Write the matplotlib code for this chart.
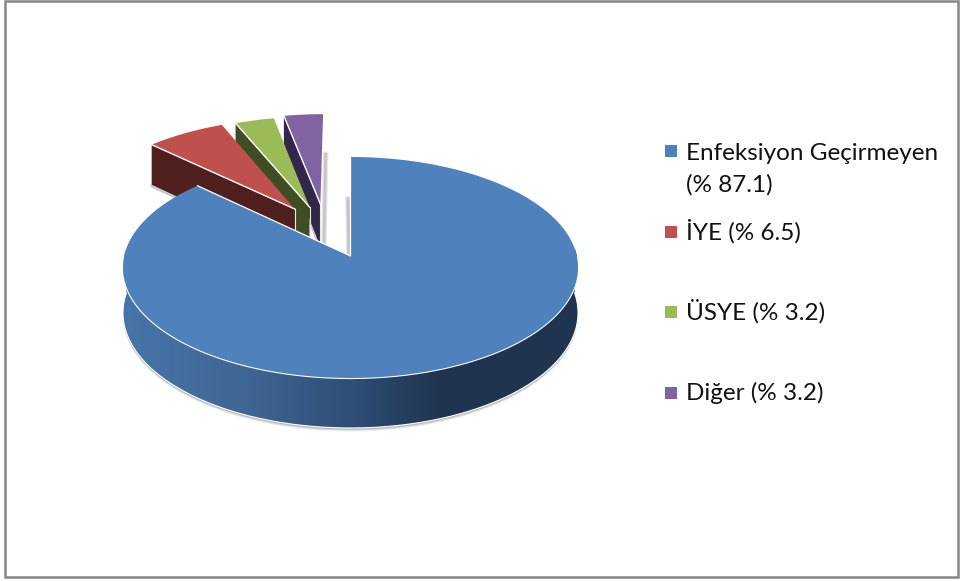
import numpy as np
import matplotlib
matplotlib.use("Agg")
import matplotlib.pyplot as plt
from matplotlib.patches import Polygon, Rectangle
from matplotlib.colors import LinearSegmentedColormap

# ---- data ----
labels = [["Enfeksiyon Geçirmeyen", "(% 87.1)"], ["İYE (% 6.5)"], ["ÜSYE (% 3.2)"], ["Diğer (% 3.2)"]]
values = [87.1, 6.5, 3.2, 3.2]

# ---- style / layout ----
top_colors = ["#4F81BD", "#C0504D", "#9BBB59", "#8064A2"]
wall_colors = [None, "#4F1F1E", "#3F4D24", "#32274A"]
explode = [(0.0, 0.0), (-0.258, 0.45), (-0.19, 0.47), (-0.14, 0.50)]
legend_y = [151, 232, 312, 393]
legend_base = [160, 240, 320, 400]
LINE_STEP = 32
CX, AY, A, B, K, DEPTH = 350.5, 256.0, 226.3, 109.3, 0.104, 44.8


def project(X, Y):
    d = 1 + K * Y
    return CX + A * X / d, AY - B * Y / d


def depth_at(Y):
    return DEPTH / (1 + K * Y)


def disc(theta_deg, off=(0, 0)):
    t = np.radians(theta_deg)
    return off[0] + np.sin(t), off[1] + np.cos(t)


fig = plt.figure(figsize=(9.6, 5.81), dpi=100, facecolor="white")
ax = fig.add_axes([0, 0, 1, 1])
ax.set_axis_off()

ax.add_patch(Rectangle((4.5, 1), 953.5, 576, fill=False, ec="#868686", lw=1.8, zorder=1))

# cumulative angles (clockwise from the top)
total = sum(values)
edges = np.concatenate([[0], np.cumsum(values)]) / total * 360

# --- exploded small slices (drawn back to front: purple, green, red) ---
z = 2
for i in [3, 2, 1]:
    off = explode[i]
    a0, a1 = edges[i], edges[i + 1]
    ax_, ay_ = project(*off)
    ox, oy = disc(a0, off)
    px, py = project(ox, oy)
    d_out, d_in = depth_at(oy), depth_at(off[1])
    ax.plot([px, ax_], [py + d_out + 1.5, ay_ + d_in + 1.5], color="#999999", lw=2, alpha=.5, zorder=z)
    if i == 3:
        ex, ey = project(*disc(a1, off))
        for w, al in [(4, .25), (2.2, .5)]:
            ax.plot([ex + 2.5, ax_ + 3.5], [ey + 40, ay_ + d_in], color="#A8A8A8", lw=w, alpha=al, zorder=z)
    ax.add_patch(Polygon([(px, py), (ax_, ay_), (ax_, ay_ + d_in), (px, py + d_out)],
                         closed=True, fc=wall_colors[i], ec="none", zorder=z + 0.1))
    ax.plot([ax_, ax_], [ay_, ay_ + d_in], color="#E8E8E8", lw=0.8, zorder=z + 0.2)
    th = np.linspace(a0, a1, 40)
    dx, dy = disc(th, off)
    sx, sy = project(dx, dy)
    ax.add_patch(Polygon(np.column_stack([np.r_[ax_, sx], np.r_[ay_, sy]]), closed=True,
                         fc=top_colors[i], ec="none", zorder=z + 0.3))
    ax.plot([px, ax_], [py, ay_], color="white", lw=1.0, zorder=z + 0.4)
    z += 1

# --- grey shadow next to main start edge ---
sx0, sy0 = project(*disc(0))
for w, al in [(4, .25), (2.2, .5)]:
    ax.plot([sx0 - 2.5, CX - 1.5], [sy0 + 42, AY - 1], color="#A0A0A0", lw=w, alpha=al, zorder=z)

# --- main slice wall ---
a1 = edges[1]
th = np.linspace(86, 274, 300)
wx, wy = disc(th)
tx, ty = project(wx, wy)
by = ty + depth_at(wy)
for o, al in [(3.5, .12), (2.5, .2), (1.5, .35)]:
    ax.fill(np.r_[tx, tx[::-1]], np.r_[ty, by[::-1] + o], color="#777777", alpha=al, lw=0, zorder=z)
cmap = LinearSegmentedColormap.from_list("w", [(0, "#4775A8"), (0.27, "#3F6693"), (0.5, "#2E4F76"),
                                               (0.7, "#1F344F"), (1, "#1E3450")])
grad = np.linspace(0, 1, 512)[None, :]
im = ax.imshow(grad, cmap=cmap, extent=(tx.min(), tx.max(), by.max() + 2, ty.min() - 2), aspect="auto", zorder=z + 0.1)
wall = Polygon(np.column_stack([np.r_[tx, tx[::-1]], np.r_[ty, by[::-1]]]), closed=True, transform=ax.transData)
im.set_clip_path(wall)
ax.plot(tx, by, color="white", lw=0.8, zorder=z + 0.2)

# --- main slice top ---
th = np.linspace(0, a1, 500)
mx, my = disc(th)
sx, sy = project(mx, my)
ax.plot(sx[(th > 90) & (th < 270)], sy[(th > 90) & (th < 270)], color="white", lw=1.6, zorder=z + 0.3)
ax.add_patch(Polygon(np.column_stack([np.r_[CX, sx], np.r_[AY, sy]]), closed=True,
                     fc=top_colors[0], ec="none", zorder=z + 0.4))
ax.plot([sx[-1], CX, sx[0]], [sy[-1], AY, sy[0]], color="white", lw=0.9, zorder=z + 0.5)

# --- legend ---
for lab, c, y, base in zip(labels, top_colors, legend_y, legend_base):
    ax.add_patch(Rectangle((665, y - 6), 12, 12, fc=c, ec="none", zorder=9))
    for k, line in enumerate(lab):
        ax.text(686, base + k * LINE_STEP, line, family=["Lato", "DejaVu Sans"], fontsize=17.5,
                color="#111111", ha="left", va="baseline", zorder=9)

ax.set_xlim(0, 960)
ax.set_ylim(581, 0)
fig.savefig("out.png", dpi=100, facecolor="white")
